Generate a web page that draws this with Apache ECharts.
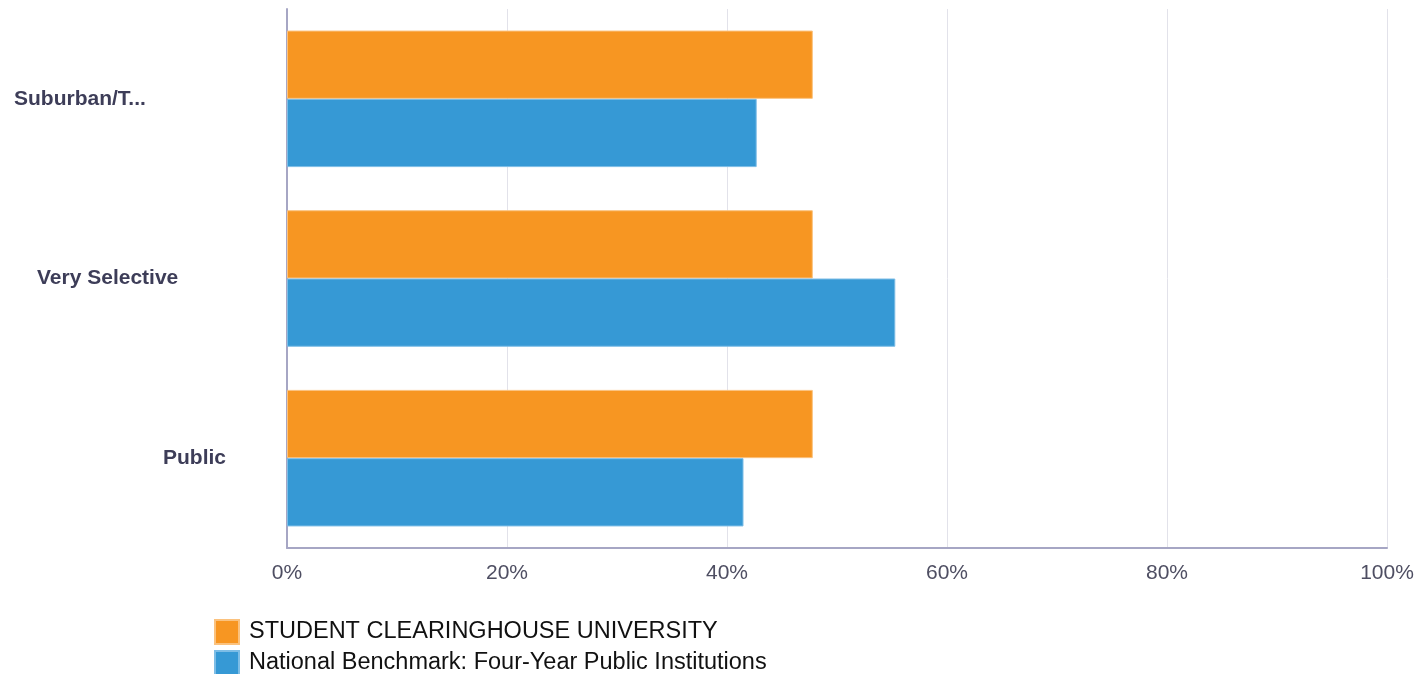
<!DOCTYPE html>
<html>
<head>
<meta charset="utf-8">
<script src="https://cdn.jsdelivr.net/npm/echarts@6/dist/echarts.min.js"></script>
<style>
  html, body { margin: 0; padding: 0; background: #fff; }
  #chart { width: 1421px; height: 674px; }
</style>
</head>
<body>
<div id="chart"></div>
<script>
const categories = ['Suburban/T...', 'Very Selective', 'Public'];
const schoolValues = [47.8, 47.8, 47.8];
const benchmarkValues = [42.7, 55.3, 41.5];
const xTicks = [0, 20, 40, 60, 80, 100];
const seriesNames = ['STUDENT CLEARINGHOUSE UNIVERSITY', 'National Benchmark: Four-Year Public Institutions'];

// per-label left offsets so labels sit where the original put them
const labelKeys = ['a', 'b', 'c'];
const labelPad = [0, 23, 149];

const font = 'Arial, "Liberation Sans", sans-serif';
const rich = {};
labelKeys.forEach((k, i) => {
  rich[k] = {
    fontFamily: font,
    fontSize: 21,
    fontWeight: 'bold',
    color: '#3d3d58',
    padding: [0, 0, 0, labelPad[i]]
  };
});

const chart = echarts.init(document.getElementById('chart'));
chart.setOption({
  animation: false,
  grid: { left: 287, right: 34, top: 9, bottom: 126 },
  legend: {
    orient: 'vertical',
    left: 214,
    top: 619,
    height: 120,
    padding: 0,
    itemWidth: 24,
    itemHeight: 24,
    itemGap: 5,
    icon: 'rect',
    textStyle: { fontFamily: font, fontSize: 23.5, color: '#111', padding: [0, 0, 0, 5] },
    data: seriesNames
  },
  xAxis: {
    type: 'value',
    min: xTicks[0],
    max: xTicks[xTicks.length - 1],
    interval: 20,
    axisLine: { show: true, lineStyle: { color: '#a6a6c4', width: 2 } },
    axisTick: { show: false },
    splitLine: { show: true, lineStyle: { color: '#e2e2ea', width: 1 } },
    axisLabel: {
      margin: 15,
      fontFamily: font,
      fontSize: 21,
      color: '#4e4e62',
      formatter: '{value}%'
    }
  },
  yAxis: {
    type: 'category',
    inverse: true,
    data: categories,
    axisLine: { show: true, lineStyle: { color: '#a6a6c4', width: 2 } },
    axisTick: { show: false },
    axisLabel: {
      align: 'left',
      margin: 273,
      formatter: (v) => '{' + labelKeys[categories.indexOf(v)] + '|' + v + '}',
      rich: rich
    }
  },
  series: [
    {
      name: seriesNames[0],
      type: 'bar',
      data: schoolValues,
      barGap: '0%',
      barCategoryGap: '24%',
      itemStyle: { color: '#f79622', borderColor: '#fbc27e', borderWidth: 1 }
    },
    {
      name: seriesNames[1],
      type: 'bar',
      data: benchmarkValues,
      barGap: '0%',
      barCategoryGap: '24%',
      itemStyle: { color: '#3699d5', borderColor: '#7dbde6', borderWidth: 1 }
    }
  ]
});
</script>
</body>
</html>
